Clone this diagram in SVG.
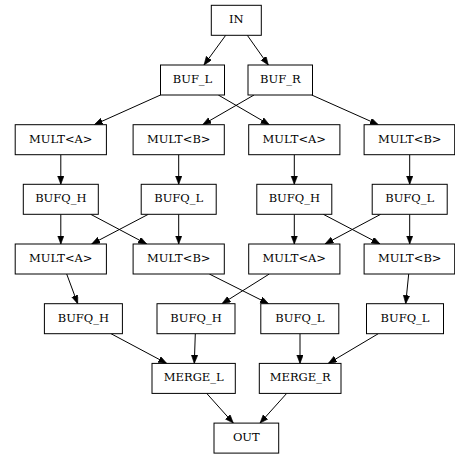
<svg xmlns="http://www.w3.org/2000/svg" width="455" height="456" viewBox="0 0 455 456">
<style>
.n rect{fill:#fff;stroke:#000;stroke-width:1}
.n text{font-family:"DejaVu Serif",serif;font-size:11.5px;text-anchor:middle;fill:#000}
.e path{fill:none;stroke:#000;stroke-width:1;marker-end:url(#a)}
</style>
<defs>
<marker id="a" markerUnits="userSpaceOnUse" markerWidth="10" markerHeight="8" refX="8.4" refY="3.2" orient="auto">
<path d="M0,0 L8.4,3.2 L0,6.4 z" fill="#000" stroke="#000" stroke-width="0.6"/>
</marker>
</defs>
<rect width="455" height="456" fill="#fff"/>
<g id="edges" class="e">
<path d="M225.7,35.3 L204,65"/>
<path d="M247.3,35.3 L268.3,65"/>
<path d="M160.5,95 L94.3,124.7"/>
<path d="M218.3,95 L269.3,124.7"/>
<path d="M254,95 L202.7,124.7"/>
<path d="M311.7,95 L378.3,124.7"/>
<path d="M60.8,154.7 L60.8,184.3"/>
<path d="M178.7,154.7 L178.7,184.3"/>
<path d="M294.3,154.7 L294.3,184.3"/>
<path d="M409.7,154.7 L409.7,184.3"/>
<path d="M60.8,214.3 L60.8,244"/>
<path d="M90.7,214.3 L146.7,244"/>
<path d="M148.3,214.3 L91.7,244"/>
<path d="M178.7,214.3 L178.7,244"/>
<path d="M294.3,214.3 L294.3,244"/>
<path d="M323.3,214.3 L380,244"/>
<path d="M380.7,214.3 L325,244"/>
<path d="M409.7,214.3 L409.7,244"/>
<path d="M66.7,274 L77.7,303.7"/>
<path d="M209.3,274 L268.5,303.7"/>
<path d="M269.3,274 L222,303.7"/>
<path d="M408.7,274 L405.7,303.7"/>
<path d="M111,333.7 L166.7,363.4"/>
<path d="M195.3,333.7 L194.3,363.4"/>
<path d="M300,333.7 L300,363.4"/>
<path d="M378.3,333.7 L328.3,363.4"/>
<path d="M206.7,393.4 L233.3,423.1"/>
<path d="M286.7,393.4 L260,423.1"/>
</g>
<g id="in" class="n"><rect x="211.3" y="5.3" width="50" height="30"/><text x="236.3" y="23.3">IN</text></g>
<g id="buf_l" class="n"><rect x="160.5" y="65" width="64" height="30"/><text x="192.5" y="83">BUF_L</text></g>
<g id="buf_r" class="n"><rect x="248" y="65" width="64.5" height="30"/><text x="280.3" y="83">BUF_R</text></g>
<g id="mult1_a" class="n"><rect x="15.2" y="124.7" width="91.2" height="30"/><text x="60.8" y="142.7">MULT&lt;A&gt;</text></g>
<g id="mult1_b" class="n"><rect x="133.1" y="124.7" width="91.2" height="30"/><text x="178.7" y="142.7">MULT&lt;B&gt;</text></g>
<g id="mult1_c" class="n"><rect x="248.7" y="124.7" width="91.2" height="30"/><text x="294.3" y="142.7">MULT&lt;A&gt;</text></g>
<g id="mult1_d" class="n"><rect x="364.1" y="124.7" width="90.6" height="30"/><text x="409.7" y="142.7">MULT&lt;B&gt;</text></g>
<g id="bufq1_a" class="n"><rect x="23.3" y="184.3" width="75" height="30"/><text x="60.8" y="202.3">BUFQ_H</text></g>
<g id="bufq1_b" class="n"><rect x="141.2" y="184.3" width="75" height="30"/><text x="178.7" y="202.3">BUFQ_L</text></g>
<g id="bufq1_c" class="n"><rect x="256.8" y="184.3" width="75" height="30"/><text x="294.3" y="202.3">BUFQ_H</text></g>
<g id="bufq1_d" class="n"><rect x="372.2" y="184.3" width="75" height="30"/><text x="409.7" y="202.3">BUFQ_L</text></g>
<g id="mult2_a" class="n"><rect x="15.2" y="244" width="91.2" height="30"/><text x="60.8" y="262">MULT&lt;A&gt;</text></g>
<g id="mult2_b" class="n"><rect x="133.1" y="244" width="91.2" height="30"/><text x="178.7" y="262">MULT&lt;B&gt;</text></g>
<g id="mult2_c" class="n"><rect x="248.7" y="244" width="91.2" height="30"/><text x="294.3" y="262">MULT&lt;A&gt;</text></g>
<g id="mult2_d" class="n"><rect x="364.1" y="244" width="90.6" height="30"/><text x="409.7" y="262">MULT&lt;B&gt;</text></g>
<g id="bufq2_a" class="n"><rect x="44.4" y="303.7" width="78" height="30"/><text x="83.4" y="321.7">BUFQ_H</text></g>
<g id="bufq2_b" class="n"><rect x="157" y="303.7" width="78" height="30"/><text x="196" y="321.7">BUFQ_H</text></g>
<g id="bufq2_c" class="n"><rect x="260.8" y="303.7" width="78" height="30"/><text x="299.8" y="321.7">BUFQ_L</text></g>
<g id="bufq2_d" class="n"><rect x="366.5" y="303.7" width="77" height="30"/><text x="405" y="321.7">BUFQ_L</text></g>
<g id="merge_l" class="n"><rect x="152" y="363.4" width="83.3" height="30"/><text x="193.7" y="381.4">MERGE_L</text></g>
<g id="merge_r" class="n"><rect x="259.3" y="363.4" width="81.7" height="30"/><text x="300.2" y="381.4">MERGE_R</text></g>
<g id="out" class="n"><rect x="214" y="423.1" width="64.7" height="30"/><text x="246.3" y="441.1">OUT</text></g>
</svg>
